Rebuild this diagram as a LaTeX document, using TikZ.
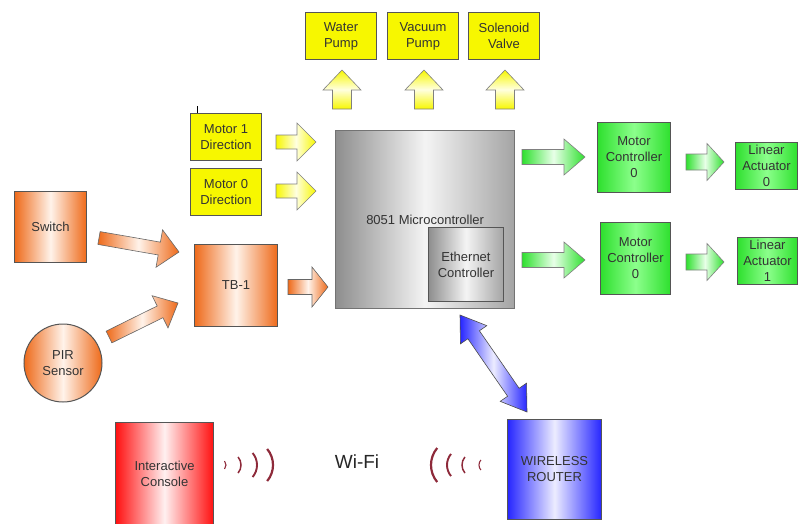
\documentclass[tikz,border=0pt]{standalone}
\usepackage{fontspec}
\setmainfont{Liberation Sans}
\usetikzlibrary{calc}
\definecolor{txt}{HTML}{333333}
\definecolor{bord}{HTML}{555555}
\definecolor{yel}{HTML}{F7F700}
\definecolor{yelL}{HTML}{FFFFE0}
\definecolor{grn}{HTML}{2EE02E}
\definecolor{grnL}{HTML}{8CFF8C}
\definecolor{grnW}{HTML}{E8FFE8}
\definecolor{org}{HTML}{EE6A1A}
\definecolor{orgL}{HTML}{FFF3EA}
\definecolor{redc}{HTML}{FF1010}
\definecolor{redL}{HTML}{FFF0F0}
\definecolor{bluec}{HTML}{2626FF}
\definecolor{blueL}{HTML}{ECECFF}
\definecolor{gryD}{HTML}{8E8E8E}
\definecolor{gryR}{HTML}{A4A4A4}
\definecolor{gryL}{HTML}{F4F4F4}
\definecolor{wifi}{HTML}{8E2A3A}
\tikzset{
  box/.style={draw=bord, line width=1pt, inner sep=0pt, align=center, text=txt,
    font=\fontsize{13}{16}\selectfont, anchor=north west},
  ybox/.style={box, fill=yel},
  gbox/.style={box, left color=grn, right color=grn, middle color=grnL},
  obox/.style={box, left color=org, right color=org, middle color=orgL},
  gybox/.style={box, left color=gryD, right color=gryR, middle color=gryL},
  rbox/.style={box, left color=redc, right color=redc, middle color=redL},
  bbox/.style={box, left color=bluec, right color=bluec, middle color=blueL},
  yarr/.style={draw=gray, line width=0.6pt, left color=yel, right color=yel, middle color=yelL},
  yuarr/.style={draw=gray, line width=0.6pt, top color=yel, bottom color=yel, middle color=yelL},
  garr/.style={draw=gray, line width=0.6pt, left color=grn, right color=grn, middle color=grnW},
  oarr/.style={draw=gray!80!black, line width=0.6pt, left color=org, right color=org, middle color=orgL},
  barr/.style={draw=black!70, line width=0.6pt, left color=bluec, right color=bluec, middle color=blueL},
}
\newcommand\barrow[6]{%
  \path[#1] ($(#2)!#4!90:(#3)$)
    -- ($(#3)!#6!(#2)!#4!-90:(#2)$)
    -- ($(#3)!#6!(#2)!#5!-90:(#2)$)
    -- (#3)
    -- ($(#3)!#6!(#2)!#5!90:(#2)$)
    -- ($(#3)!#6!(#2)!#4!90:(#2)$)
    -- ($(#2)!#4!-90:(#3)$) -- cycle;}
\newcommand\dbarrow[6]{%
  \path[#1] (#2)
    -- ($(#2)!#6!(#3)!#5!90:(#3)$)
    -- ($(#2)!#6!(#3)!#4!90:(#3)$)
    -- ($(#3)!#6!(#2)!#4!-90:(#2)$)
    -- ($(#3)!#6!(#2)!#5!-90:(#2)$)
    -- (#3)
    -- ($(#3)!#6!(#2)!#5!90:(#2)$)
    -- ($(#3)!#6!(#2)!#4!90:(#2)$)
    -- ($(#2)!#6!(#3)!#4!-90:(#3)$)
    -- ($(#2)!#6!(#3)!#5!-90:(#3)$) -- cycle;}
\newcommand\wfR[3]{\draw[wifi, line width=#3] ({#1-#2},465) ++(-40:#2) arc[start angle=-40, end angle=40, radius=#2];}
\newcommand\wfL[3]{\draw[wifi, line width=#3] ({#1+#2},465) ++(140:#2) arc[start angle=140, end angle=220, radius=#2];}
\begin{document}
\begin{tikzpicture}[x=1pt, y=-1pt]
\useasboundingbox (0,0) rectangle (799,523);
% top outputs
\node[ybox, minimum width=71pt, minimum height=47pt] (wp) at (305,12) {Water\\Pump};
\node[ybox, minimum width=71pt, minimum height=47pt] (vp) at (387,12) {Vacuum\\Pump};
\node[ybox, minimum width=71pt, minimum height=47pt] (sv) at (468,12) {Solenoid\\Valve};
% direction inputs
\node[ybox, minimum width=71pt, minimum height=47pt] (m1) at (190,113) {Motor 1\\Direction};
\node[ybox, minimum width=71pt, minimum height=47pt] (m0) at (190,168) {Motor 0\\Direction};
\draw[line width=0.6pt] ($(m1.north west)+(7,0)$) -- ++(0,-7);
% microcontroller
\node[gybox, draw=gray!90!black, line width=1.3pt, minimum width=179pt, minimum height=178pt] (mcu) at (335,130) {8051 Microcontroller};
\node[gybox, minimum width=75pt, minimum height=74pt] (eth) at (428,227) {Ethernet\\Controller};
% motor controllers and actuators
\node[gbox, minimum width=73pt, minimum height=70pt] (mc0) at (597,122) {Motor\\Controller\\0};
\node[gbox, minimum width=70pt, minimum height=72pt] (mc1) at (600,222) {Motor\\Controller\\0};
\node[gbox, minimum width=62pt, minimum height=47pt] (la0) at (735,142) {Linear\\Actuator\\0};
\node[gbox, minimum width=60pt, minimum height=47pt] (la1) at (737,237) {Linear\\Actuator\\1};
% sensors
\node[obox, minimum width=72pt, minimum height=71pt] (sw) at (14,191) {Switch};
\node[obox, minimum width=83pt, minimum height=82pt] (tb) at (194,244) {TB-1};
\node[obox, circle, anchor=center, minimum size=78pt] (pir) at (63,363) {PIR\\Sensor};
% bottom
\node[rbox, minimum width=98pt, minimum height=103pt] (ic) at (115,422) {Interactive\\Console};
\node[bbox, minimum width=94pt, minimum height=100pt] (wr) at (507,419) {WIRELESS\\ROUTER};
\node[text=black!85, font=\fontsize{19}{22}\selectfont] (wifitxt) at (357,462) {Wi-Fi};
% arrow end points
\coordinate (u1a) at (342,109); \coordinate (u1b) at (342,70);
\coordinate (u2a) at (424,109); \coordinate (u2b) at (424,70);
\coordinate (u3a) at (505,109); \coordinate (u3b) at (505,70);
\coordinate (r1a) at (276,142); \coordinate (r1b) at (316,142);
\coordinate (r0a) at (276,191); \coordinate (r0b) at (316,191);
\coordinate (g1a) at (522,157); \coordinate (g1b) at (585,157);
\coordinate (g2a) at (522,260); \coordinate (g2b) at (585,260);
\coordinate (g3a) at (686,162); \coordinate (g3b) at (724,162);
\coordinate (g4a) at (686,262); \coordinate (g4b) at (724,262);
\coordinate (o1a) at (99,238); \coordinate (o1b) at (179,252);
\coordinate (o2a) at (109,337); \coordinate (o2b) at (178,303);
\coordinate (o3a) at (288,287); \coordinate (o3b) at (328,287);
\coordinate (b1a) at (460,315); \coordinate (b1b) at (527,412);
% arrows
\barrow{yuarr}{u1a}{u1b}{9.5pt}{19pt}{20pt}
\barrow{yuarr}{u2a}{u2b}{9.5pt}{19pt}{20pt}
\barrow{yuarr}{u3a}{u3b}{9.5pt}{19pt}{20pt}
\barrow{yarr}{r1a}{r1b}{7pt}{19pt}{19pt}
\barrow{yarr}{r0a}{r0b}{7pt}{19pt}{19pt}
\barrow{garr}{g1a}{g1b}{7.5pt}{18pt}{21pt}
\barrow{garr}{g2a}{g2b}{7.5pt}{18pt}{21pt}
\barrow{garr}{g3a}{g3b}{8pt}{18.5pt}{17pt}
\barrow{garr}{g4a}{g4b}{8pt}{18.5pt}{17pt}
\barrow{oarr}{o1a}{o1b}{6.5pt}{19pt}{20pt}
\barrow{oarr}{o2a}{o2b}{6.5pt}{18pt}{20pt}
\barrow{oarr}{o3a}{o3b}{7.5pt}{20pt}{16pt}
\dbarrow{barr}{b1a}{b1b}{7pt}{16pt}{24pt}
% wi-fi waves
\wfR{226}{6.2}{1.1pt}
\wfR{241}{12.5}{1.5pt}
\wfR{257}{18.7}{1.9pt}
\wfR{273}{25}{2.2pt}
\wfL{431}{26.5}{2.2pt}
\wfL{447}{17.2}{1.9pt}
\wfL{462}{12.5}{1.5pt}
\wfL{479}{7.8}{1.1pt}
\end{tikzpicture}
\end{document}
